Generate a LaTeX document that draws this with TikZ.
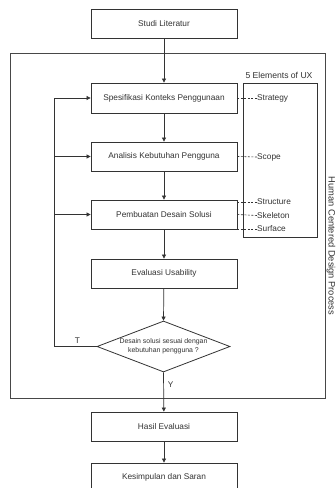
\documentclass[tikz,border=0pt]{standalone}
\usepackage{fontspec}
\setmainfont{Liberation Sans}
\usetikzlibrary{arrows.meta,shapes.geometric}
\definecolor{ink}{HTML}{333333}
\begin{document}
\begin{tikzpicture}[x=1pt,y=-1pt,
  every node/.style={text=ink},
  proc/.style={draw=ink,line width=0.8pt,minimum width=146pt,minimum height=29pt,font=\fontsize{8.3}{10}\selectfont,inner sep=0pt},
  arr/.style={draw=ink,line width=0.7pt,-{Triangle[length=4pt,width=4pt]}},
  ln/.style={draw=ink,line width=0.7pt},
  dashln/.style={draw=ink,line width=0.6pt,dash pattern=on 2pt off 1.5pt},
  lbl/.style={font=\fontsize{8.3}{10}\selectfont,inner sep=0pt,anchor=west}]
\useasboundingbox (0,0) rectangle (336,488);
\fill[white] (0,0) rectangle (336,488);
% outer frame
\draw[draw=ink!90,line width=0.8pt] (10,53) rectangle (325,398);
\node[rotate=-90,font=\fontsize{9.3}{11}\selectfont,inner sep=0pt] (hcd) at (331,246) {Human Centered Design Process};
% 5 elements box
\draw[draw=ink,line width=0.8pt] (243,83) rectangle (317,237);
\node[font=\fontsize{8.6}{10}\selectfont,inner sep=0pt] (ux) at (279,75) {5 Elements of UX};
% boxes
\node[proc] (studi) at (164,24) {Studi Literatur};
\node[proc,minimum height=30pt] (spes) at (164,98) {Spesifikasi Konteks Penggunaan};
\node[proc] (anal) at (164,156.5) {Analisis Kebutuhan Pengguna};
\node[proc] (pemb) at (164,214.5) {Pembuatan Desain Solusi};
\node[proc] (eval) at (164,273.5) {Evaluasi Usability};
\node[draw=ink,line width=0.8pt,diamond,aspect=2.6,minimum width=133pt,minimum height=51pt,inner sep=0pt,font=\fontsize{6.9}{9}\selectfont,align=center] (dec) at (163.5,346.5) {Desain solusi sesuai dengan\\kebutuhan pengguna ?};
\node[proc] (hasil) at (164,426.5) {Hasil Evaluasi};
\node[proc] (kes) at (164,477.5) {Kesimpulan dan Saran};
% main arrows
\draw[arr] (studi) -- (spes);
\draw[arr] (spes) -- (anal);
\draw[arr] (anal) -- (pemb);
\draw[arr] (pemb) -- (eval);
\draw[arr] (eval) -- (dec.north);
\draw[arr] (dec.south) -- node[right=4pt,pos=0.3,font=\fontsize{8.3}{10}\selectfont,inner sep=0pt] {Y} (hasil);
\draw[arr] (hasil) -- (kes);
% loop back
\coordinate (lb) at (54,346.5);
\coordinate (lt) at (54,98);
\draw[ln] (dec.west) -- node[above=3pt,font=\fontsize{8.3}{10}\selectfont,inner sep=0pt,pos=0.45] {T} (lb) -- (lt);
\draw[arr] (lt) -- (spes.west);
\draw[arr] (54,156.5) -- (anal.west);
\draw[arr] (54,214.5) -- (pemb.west);
% UX labels
\node[lbl] (strat) at (257,98) {Strategy};
\node[lbl] (scope) at (257,157) {Scope};
\node[lbl] (struc) at (257,202) {Structure};
\node[lbl] (skel) at (257,215.5) {Skeleton};
\node[lbl] (surf) at (257,229) {Surface};
\draw[dashln] (spes.east) -- (strat.west);
\draw[dashln] (anal.east) -- (scope.west);
\draw[dashln] (pemb.east |- struc) -- (struc.west);
\draw[dashln] (pemb.east) -- (skel.west);
\draw[dashln] (pemb.east |- surf) -- (surf.west);
\end{tikzpicture}
\end{document}
